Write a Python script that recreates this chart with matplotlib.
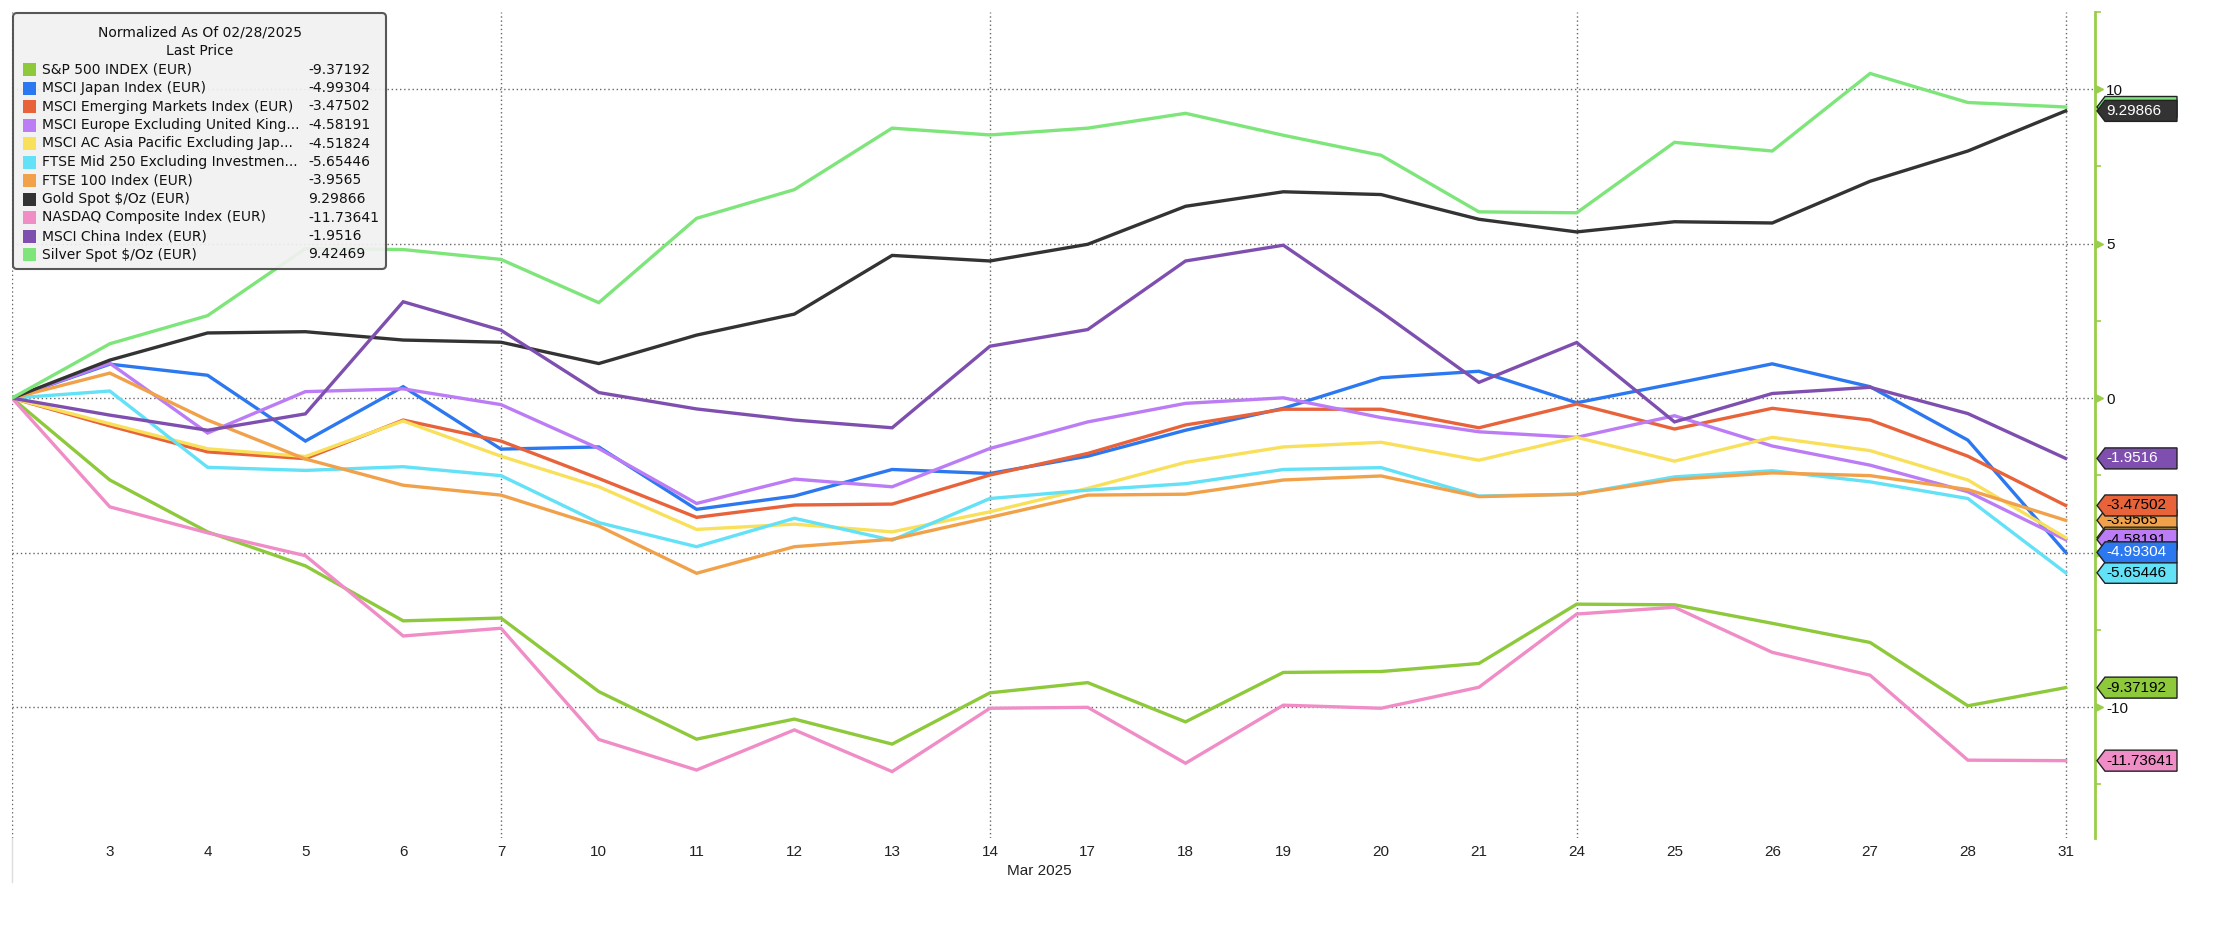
import matplotlib
matplotlib.use("Agg")
import matplotlib.pyplot as plt
from matplotlib import font_manager
from matplotlib.patches import Polygon, FancyBboxPatch, Rectangle
from matplotlib.lines import Line2D
from matplotlib.transforms import IdentityTransform, ScaledTranslation, blended_transform_factory

# ---------------- data ----------------
dates = ["2025-02-28", "2025-03-03", "2025-03-04", "2025-03-05", "2025-03-06", "2025-03-07",
         "2025-03-10", "2025-03-11", "2025-03-12", "2025-03-13", "2025-03-14", "2025-03-17",
         "2025-03-18", "2025-03-19", "2025-03-20", "2025-03-21", "2025-03-24", "2025-03-25",
         "2025-03-26", "2025-03-27", "2025-03-28", "2025-03-31"]

names = ["S&P 500 INDEX (EUR)", "MSCI Japan Index (EUR)", "MSCI Emerging Markets Index (EUR)",
         "MSCI Europe Excluding United King...", "MSCI AC Asia Pacific Excluding Jap...",
         "FTSE Mid 250 Excluding Investmen...", "FTSE 100 Index (EUR)", "Gold Spot $/Oz (EUR)",
         "NASDAQ Composite Index (EUR)", "MSCI China Index (EUR)", "Silver Spot $/Oz (EUR)"]

sp500 = [0, -2.65, -4.33, -5.43, -7.21, -7.12, -9.50, -11.04, -10.39, -11.20, -9.54, -9.21,
         -10.48, -8.88, -8.85, -8.59, -6.67, -6.69, -7.29, -7.91, -9.96, -9.37192]
japan = [0, 1.10, 0.74, -1.39, 0.37, -1.65, -1.58, -3.60, -3.17, -2.31, -2.44, -1.88,
         -1.04, -0.33, 0.66, 0.87, -0.15, 0.47, 1.11, 0.37, -1.36, -4.99304]
em = [0, -0.90, -1.74, -1.96, -0.71, -1.39, -2.60, -3.86, -3.46, -3.43, -2.49, -1.79,
      -0.87, -0.36, -0.36, -0.96, -0.19, -1.00, -0.33, -0.71, -1.88, -3.47502]
europe = [0, 1.13, -1.13, 0.21, 0.30, -0.21, -1.63, -3.41, -2.62, -2.87, -1.63, -0.77,
          -0.17, 0.01, -0.63, -1.09, -1.27, -0.57, -1.55, -2.17, -3.03, -4.58191]
asiapac = [0, -0.83, -1.64, -1.89, -0.74, -1.88, -2.87, -4.25, -4.08, -4.33, -3.68, -2.92,
           -2.08, -1.58, -1.43, -2.01, -1.27, -2.04, -1.27, -1.70, -2.65, -4.51824]
mid250 = [0, 0.23, -2.24, -2.34, -2.22, -2.51, -4.03, -4.81, -3.89, -4.60, -3.25, -2.98,
          -2.77, -2.31, -2.25, -3.17, -3.11, -2.55, -2.35, -2.71, -3.25, -5.65446]
ftse100 = [0, 0.81, -0.71, -1.97, -2.82, -3.14, -4.14, -5.67, -4.81, -4.57, -3.86, -3.14,
           -3.11, -2.65, -2.52, -3.19, -3.11, -2.63, -2.42, -2.51, -2.96, -3.9565]
gold = [0, 1.23, 2.11, 2.15, 1.88, 1.81, 1.12, 2.04, 2.72, 4.62, 4.44, 4.98,
        6.21, 6.68, 6.59, 5.79, 5.38, 5.71, 5.67, 7.02, 8.00, 9.29866]
nasdaq = [0, -3.52, -4.36, -5.10, -7.70, -7.45, -11.05, -12.04, -10.74, -12.09, -10.04, -10.01,
          -11.82, -9.94, -10.04, -9.36, -6.99, -6.77, -8.23, -8.97, -11.72, -11.73641]
china = [0, -0.55, -1.04, -0.51, 3.12, 2.20, 0.18, -0.35, -0.71, -0.96, 1.68, 2.22,
         4.44, 4.95, 2.79, 0.51, 1.80, -0.77, 0.15, 0.35, -0.50, -1.9516]
silver = [0, 1.76, 2.67, 4.84, 4.81, 4.49, 3.09, 5.82, 6.75, 8.74, 8.52, 8.74,
          9.22, 8.51, 7.86, 6.03, 6.00, 8.28, 8.00, 10.51, 9.57, 9.42469]

series = [sp500, japan, em, europe, asiapac, mid250, ftse100, gold, nasdaq, china, silver]
colors = ["#8DC93A", "#2B78F0", "#E8623A", "#BC7CF5", "#F9E05A", "#62E1F7",
          "#F1A14A", "#333333", "#F08CC6", "#7E4FAF", "#7DE57A"]
tag_text_colors = ["black", "white", "black", "black", "black", "black",
                   "black", "white", "black", "white", "black"]

legend_title = ["Normalized As Of 02/28/2025", "Last Price"]
month_label = "Mar 2025"
y_major = [10, 5, 0, -5, -10]
y_minor = [12.5, 7.5, 2.5, -2.5, -7.5, -12.5]
vgrid_idx = [0, 5, 10, 16, 21]

# ---------------- fonts ----------------
plt.rcParams["font.family"] = ["DejaVu Sans"]
plt.rcParams["axes.unicode_minus"] = False
avail = {f.name for f in font_manager.fontManager.ttflist}
if "Liberation Sans Narrow" in avail:
    nfont, nsize = "Liberation Sans Narrow", 13
elif "Liberation Sans" in avail:
    nfont, nsize = "Liberation Sans", 11
else:
    nfont, nsize = "DejaVu Sans", 9.5

W, H = 2216, 926
fig = plt.figure(figsize=(W / 100, H / 100), dpi=100)
ax = fig.add_axes([12 / W, 1 - 838 / H, (2095 - 12) / W, (838 - 12) / H])
ax.set_xlim(0, 21.3)
ax.set_ylim(-14.24, 12.49)

green_axis = "#9ACD4A"
for s in ["top", "left", "bottom"]:
    ax.spines[s].set_visible(False)
ax.spines["right"].set_color(green_axis)
ax.spines["right"].set_linewidth(2)

# grid
for v in y_major:
    ax.axhline(v, color="#666666", lw=1, ls=(0, (1, 2)), zorder=1)
for i in vgrid_idx:
    ax.axvline(i, color="#666666", lw=1, ls=(0, (1, 2)), zorder=1)

# lines
x = list(range(len(dates)))
for vals, c in zip(series, colors):
    ax.plot(x, vals, color=c, lw=2.4, solid_joinstyle="miter", zorder=3)

# x ticks
xt = x[1:]
ax.set_xticks(xt)
ax.set_xticklabels([str(int(d[-2:])) for d in dates[1:]], fontfamily=nfont, fontsize=nsize, color="#222222")
ax.tick_params(axis="x", length=0, pad=5)
ax.text(10.5, -0.040, month_label, transform=blended_transform_factory(ax.transData, ax.transAxes),
        ha="center", va="center", fontfamily=nfont, fontsize=nsize, color="#222222")

# y ticks on right
ax.yaxis.tick_right()
ax.set_yticks(y_major)
ax.set_yticklabels([str(v) for v in y_major], fontfamily=nfont, fontsize=nsize, color="#111111")
ax.set_yticks(y_minor, minor=True)
ax.tick_params(axis="y", which="major", length=0, pad=8)
ax.tick_params(axis="y", which="minor", length=4, width=1.2, color=green_axis, direction="out")
tri_trans = blended_transform_factory(ax.transAxes, ax.transData) + ScaledTranslation(4 / 100, 0, fig.dpi_scale_trans)
ax.plot([1.0] * len(y_major), y_major, ls="none", marker=">", ms=6, color=green_axis,
        transform=tri_trans, clip_on=False, zorder=4)

# faint separator below plot at left
fig.add_artist(Line2D([12, 12], [H - 838, H - 882], transform=IdentityTransform(), color="#dddddd", lw=1))

# value tags
x0, x1 = 2097, 2177
for i, (vals, c, tc) in enumerate(zip(series, colors, tag_text_colors)):
    v = vals[-1]
    yc = ax.transData.transform((0, v))[1]
    hh = 10.5
    poly = Polygon([(x0, yc), (x0 + 8, yc + hh), (x1, yc + hh), (x1, yc - hh), (x0 + 8, yc - hh)],
                   closed=True, transform=IdentityTransform(), facecolor=c, edgecolor="#222222",
                   lw=1, zorder=100 - 2 * i)
    fig.add_artist(poly)
    label = f"{v:.5f}".rstrip("0").rstrip(".")
    fig.text(x0 + 9, yc, label, transform=IdentityTransform(), ha="left", va="center",
             fontfamily=nfont, fontsize=nsize, color=tc, zorder=101 - 2 * i)

# legend
lx0, ly0, lx1, ly1 = 13, 13, 386, 269  # pixels from top-left
box = FancyBboxPatch((lx0, H - ly1), lx1 - lx0, ly1 - ly0, boxstyle="round,pad=0,rounding_size=4",
                     transform=IdentityTransform(), facecolor="#F1F1F1", edgecolor="#4A4A4A",
                     lw=1.5, alpha=0.92, zorder=50)
fig.add_artist(box)
fig.text(200, H - 32, legend_title[0], transform=IdentityTransform(), ha="center", va="center",
         fontsize=10, color="#111111", zorder=51)
fig.text(200, H - 51, legend_title[1], transform=IdentityTransform(), ha="center", va="center",
         fontsize=10, color="#111111", zorder=51)
for k, (nm, vals, c) in enumerate(zip(names, series, colors)):
    yy = H - (69.5 + 18.5 * k)
    fig.add_artist(Rectangle((23, yy - 6.5), 13, 13, transform=IdentityTransform(), facecolor=c,
                             edgecolor="none", zorder=51))
    fig.text(42, yy, nm, transform=IdentityTransform(), ha="left", va="center", fontsize=10,
             color="#111111", zorder=51)
    fig.text(308, yy, f"{vals[-1]:.5f}".rstrip("0").rstrip("."), transform=IdentityTransform(),
             ha="left", va="center", fontsize=10, color="#111111", zorder=51)

fig.savefig("out.png", dpi=100)
